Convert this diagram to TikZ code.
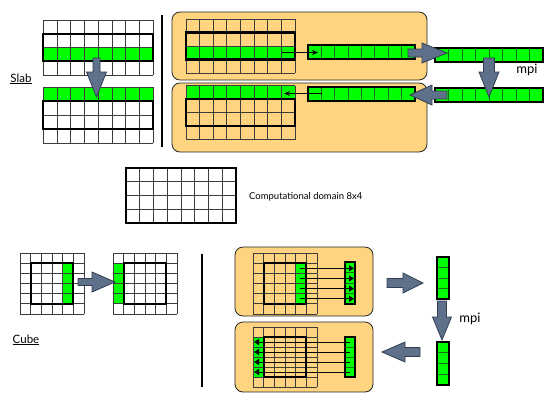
\documentclass[tikz,border=0pt]{standalone}
\usepackage{fontspec}
\setmainfont{Lato}
\usetikzlibrary{arrows.meta}
\definecolor{cgreen}{RGB}{0,255,0}
\definecolor{sgreen}{RGB}{20,110,20}
\definecolor{gline}{RGB}{60,60,60}
\definecolor{boxfill}{RGB}{255,212,128}
\definecolor{arrfill}{RGB}{94,112,138}
\definecolor{arrline}{RGB}{50,62,82}
\tikzset{
  gridline/.style={draw=gline, line width=0.8pt},
  thickbox/.style={draw=black, line width=2.2pt},
  procbox/.style={fill=boxfill, draw=black!85, line width=0.8pt, rounded corners=8pt},
  fatarrow/.style={fill=arrfill, draw=arrline, line width=0.8pt, line join=miter},
  thinarrow/.style={draw=black, line width=1pt, -{Stealth[length=6pt,width=5pt]}},
  cubearrow/.style={draw=black, line width=1pt, -{Triangle[length=5pt,width=6pt]}},
  stripborder/.style={draw=black, line width=1.5pt},
  sepline/.style={draw=sgreen, line width=0.8pt},
  lbl/.style={inner sep=0pt, text=black},
}
% grid: x0 y0 ncols nrows w h
\newcommand\cgrid[6]{%
  \foreach \i in {0,...,#3}{\draw[gridline] ({#1+\i*#5},#2) -- ({#1+\i*#5},{#2+#4*#6});}
  \foreach \j in {0,...,#4}{\draw[gridline] (#1,{#2+\j*#6}) -- ({#1+#3*#5},{#2+\j*#6});}
}
% horizontal strip: x0 y0 x1 y1 ncells ncells-1
\newcommand\hstrip[6]{%
  \fill[cgreen] (#1,#2) rectangle (#3,#4);
  \foreach \i in {1,...,#6}{\draw[sepline] ({#1+\i*(#3-#1)/#5},#2) -- ({#1+\i*(#3-#1)/#5},#4);}
  \draw[stripborder] (#1,#2) rectangle (#3,#4);
}
% vertical strip: x0 y0 x1 y1 ncells ncells-1
\newcommand\vstrip[6]{%
  \fill[cgreen] (#1,#2) rectangle (#3,#4);
  \foreach \i in {1,...,#6}{\draw[sepline] (#1,{#2+\i*(#4-#2)/#5}) -- (#3,{#2+\i*(#4-#2)/#5});}
  \draw[stripborder] (#1,#2) rectangle (#3,#4);
}
% horizontal fat arrow: xs xb xt yc s h
\newcommand\harr[6]{%
  \draw[fatarrow] (#1,{#4-#5}) -- (#2,{#4-#5}) -- (#2,{#4-#6}) -- (#3,#4) -- (#2,{#4+#6}) -- (#2,{#4+#5}) -- (#1,{#4+#5}) -- cycle;}
% vertical fat arrow: ys yb yt xc s h
\newcommand\varr[6]{%
  \draw[fatarrow] ({#4-#5},#1) -- ({#4-#5},#2) -- ({#4-#6},#2) -- (#4,#3) -- ({#4+#6},#2) -- ({#4+#5},#2) -- ({#4+#5},#1) -- cycle;}
\begin{document}
\begin{tikzpicture}[x=1pt,y=-1pt]
\useasboundingbox (0,0) rectangle (554,415);
\fill[white] (0,0) rectangle (554,415);

% ================= SLAB =================
% left top grid
\fill[cgreen] (43.3,47.5) rectangle (153.3,61.25);
\cgrid{43.3}{20}{8}{4}{13.75}{13.75}
\draw[thickbox] (43.3,33.75) rectangle (153.3,61.25);
% left bottom grid
\fill[cgreen] (43.3,87) rectangle (153.3,101);
\cgrid{43.3}{87}{8}{4}{13.75}{14}
\draw[thickbox] (43.3,101) rectangle (153.3,129);
\varr{58}{72}{97}{96.5}{3.5}{10}
\node[lbl, font=\fontsize{11.5}{13}\selectfont] (slab) at (21,79) {\underline{Slab}};

% separator line
\draw[line width=1.3pt] (162,15) -- (162,147);

% process boxes
\draw[procbox] (172,12) rectangle (427,80);
\draw[procbox] (172,83) rectangle (427,152);

% top box grid
\fill[cgreen] (186,46) rectangle (295,59.5);
\cgrid{186}{19}{8}{4}{13.625}{13.5}
\draw[thickbox] (186,32.5) rectangle (295,59.5);
% bottom box grid
\fill[cgreen] (186,85.5) rectangle (295,99);
\cgrid{186}{85.5}{8}{4}{13.625}{13.5}
\draw[thickbox] (186,99) rectangle (295,126);

% strips
\hstrip{308}{45}{415}{59}{8}{7}
\hstrip{308}{87}{415}{101}{8}{7}
\hstrip{435}{48}{543}{62}{8}{7}
\hstrip{435}{88}{543}{102}{8}{7}

% thin arrows
\coordinate (sa1) at (282,52.5);
\coordinate (sb1) at (318,52.5);
\coordinate (sa2) at (322,93.5);
\coordinate (sb2) at (284,93.5);
\draw[thinarrow] (sa1) -- (sb1);
\draw[thinarrow] (sa2) -- (sb2);

% fat arrows
\harr{408}{422}{447}{53}{4}{10}
\varr{58}{72}{97}{489}{5.5}{10}
\harr{447}{432}{410}{95}{4}{10}
\node[lbl, font=\fontsize{13}{15}\selectfont] (mpi1) at (527,70) {mpi};

% ================= COMPUTATIONAL DOMAIN =================
\cgrid{126}{168}{8}{4}{13.75}{13.75}
\draw[line width=2pt] (126,168) rectangle (236,223);
\node[lbl, anchor=west, font=\fontsize{9.5}{11}\selectfont] (dom) at (249,197) {Computational domain 8x4};

% ================= CUBE =================
% left grid
\fill[cgreen] (62.67,263.17) rectangle (73.33,303.83);
\cgrid{20}{253}{6}{6}{10.667}{10.167}
\draw[thickbox] (30.67,263.17) rectangle (73.33,303.83);
% right grid
\fill[cgreen] (113,263.17) rectangle (123.67,303.83);
\cgrid{113}{253}{6}{6}{10.667}{10.167}
\draw[thickbox] (123.67,263.17) rectangle (166.33,303.83);
\harr{78}{92}{115}{282}{3.5}{10}
\node[lbl, font=\fontsize{11.5}{13}\selectfont] (cube) at (26,340) {\underline{Cube}};

% separator line
\draw[line width=1.3pt] (202,254) -- (202,387);

% process boxes
\draw[procbox] (235,247) rectangle (373,316);
\draw[procbox] (235,322) rectangle (373,392);

% top box grid
\fill[cgreen] (295.67,263.17) rectangle (306.33,303.83);
\cgrid{253}{253}{6}{6}{10.667}{10.167}
\draw[thickbox] (263.67,263.17) rectangle (306.33,303.83);
\vstrip{345}{262}{355}{304}{4}{3}
% bottom box grid
\fill[cgreen] (253,337) rectangle (263.67,377);
\cgrid{253}{327}{6}{6}{10.667}{10}
\draw[thickbox] (263.67,337) rectangle (306.33,377);
\vstrip{345}{337}{355}{377}{4}{3}

% cube thin arrows
\foreach \k in {0,1,2,3}{
  \coordinate (ca\k) at (300,{268.3+\k*10.17});
  \coordinate (cb\k) at (354,{268.3+\k*10.17});
  \draw[cubearrow] (ca\k) -- (cb\k);
  \coordinate (cc\k) at (350,{342+\k*10});
  \coordinate (cd\k) at (254,{342+\k*10});
  \draw[cubearrow] (cc\k) -- (cd\k);
}

% right strips
\vstrip{437}{257}{449}{299}{4}{3}
\vstrip{437}{342}{449}{385}{4}{3}

% fat arrows
\harr{387}{403}{423}{283}{4.5}{10}
\varr{301}{317}{340}{442}{4.5}{9.5}
\harr{420}{405}{382}{352}{4.5}{10}
\node[lbl, font=\fontsize{13}{15}\selectfont] (mpi2) at (470,319) {mpi};
\end{tikzpicture}
\end{document}
